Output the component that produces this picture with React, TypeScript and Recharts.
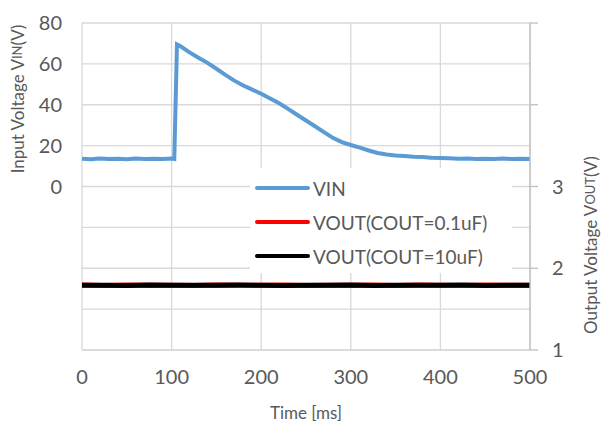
import React from "react";
import {
  LineChart,
  Line,
  XAxis,
  YAxis,
  CartesianGrid,
  Legend,
  Label,
} from "recharts";

// time [ms] and input voltage [V]
const vinTime = [
  0, 10, 20, 30, 40, 50, 60, 70, 80, 90, 100, 103, 106, 110, 120, 130, 140,
  150, 160, 170, 180, 190, 200, 210, 220, 230, 240, 250, 260, 270, 280, 290,
  300, 310, 320, 330, 340, 350, 360, 370, 380, 390, 400, 410, 420, 430, 440,
  450, 460, 470, 480, 490, 500,
];
const vinValues = [
  13.6, 13.3, 13.7, 13.4, 13.6, 13.3, 13.7, 13.5, 13.6, 13.4, 13.7, 13.5,
  69.5, 68.6, 65.6, 63.0, 60.5, 57.6, 54.6, 51.8, 49.4, 47.4, 45.4, 43.1, 40.7,
  38.0, 35.1, 32.3, 29.5, 26.6, 23.8, 21.7, 20.3, 19.0, 17.6, 16.4, 15.7, 15.2,
  14.9, 14.6, 14.4, 14.1, 14.0, 13.8, 13.6, 13.7, 13.4, 13.6, 13.5, 13.7, 13.4,
  13.6, 13.5,
];

// output voltage [V], sampled every 25 ms
const voutTime = [
  0, 25, 50, 75, 100, 125, 150, 175, 200, 225, 250, 275, 300, 325, 350, 375,
  400, 425, 450, 475, 500,
];
const voutSmallCap = [
  1.794, 1.79, 1.795, 1.791, 1.793, 1.79, 1.796, 1.791, 1.792, 1.795, 1.79,
  1.793, 1.791, 1.795, 1.79, 1.794, 1.792, 1.79, 1.795, 1.791, 1.793,
];
const voutLargeCap = [
  1.791, 1.793, 1.79, 1.794, 1.791, 1.793, 1.791, 1.794, 1.792, 1.79, 1.793,
  1.791, 1.794, 1.79, 1.793, 1.791, 1.792, 1.794, 1.79, 1.793, 1.791,
];

const timeTicks = [0, 100, 200, 300, 400, 500];
const vinTicks = [-80, -60, -40, -20, 0, 20, 40, 60, 80];
const voutTicks = [1, 2, 3, 4, 5];

const vinData = vinTime.map((t, i) => ({ t, v: vinValues[i] }));
const vout01Data = voutTime.map((t, i) => ({ t, v: voutSmallCap[i] }));
const vout10Data = voutTime.map((t, i) => ({ t, v: voutLargeCap[i] }));

const FONT = "Lato, 'Open Sans', sans-serif";
const GRAY = "#595959";
const GRID = "#d9d9d9";

const legendItems = [
  { name: "VIN", color: "#5b9bd5" },
  { name: "VOUT(COUT=0.1uF)", color: "#ff0000" },
  { name: "VOUT(COUT=10uF)", color: "#000000" },
];

function ChartLegend() {
  return (
    <div style={{ background: "#fff", padding: "3px 0 0 5px", fontFamily: FONT }}>
      {legendItems.map((item) => (
        <div
          key={item.name}
          style={{ display: "flex", alignItems: "center", height: 34, color: GRAY, fontSize: 19 }}
        >
          <div style={{ width: 55, height: 4, background: item.color, borderRadius: 2, marginRight: 3 }} />
          <span>{item.name}</span>
        </div>
      ))}
    </div>
  );
}

function AxisTitle({ x, y, main, sub, tail }: { x: number; y: number; main: string; sub: string; tail: string }) {
  return (
    <text
      x={x}
      y={y}
      transform={`rotate(-90 ${x} ${y})`}
      textAnchor="middle"
      dominantBaseline="central"
      fill={GRAY}
      fontFamily={FONT}
      fontSize={17}
    >
      {main}
      <tspan fontSize={13}>{sub}</tspan>
      {tail}
    </text>
  );
}

export default function App() {
  return (
    <div style={{ position: "absolute", left: 0, top: 0, width: 601, height: 432, background: "#fff" }}>
      <LineChart width={601} height={432} margin={{ top: 23, right: 31, bottom: 52, left: 42 }}>
        <CartesianGrid yAxisId="vin" stroke={GRID} strokeWidth={1.3} />
        <XAxis
          dataKey="t"
          type="number"
          domain={[0, 500]}
          ticks={timeTicks}
          axisLine={{ stroke: GRID, strokeWidth: 1.3 }}
          tickLine={false}
          tickSize={0}
          tickMargin={20}
          height={30}
          tick={{ fill: GRAY, fontSize: 20, fontFamily: FONT }}
          allowDuplicatedCategory={false}
        >
          <Label
            content={() => (
              <text x={306} y={412} textAnchor="middle" dominantBaseline="central" fill={GRAY} fontFamily={FONT} fontSize={17}>
                Time [ms]
              </text>
            )}
          />
        </XAxis>
        <YAxis
          yAxisId="vin"
          domain={[-80, 80]}
          ticks={vinTicks}
          width={40}
          axisLine={false}
          tickLine={false}
          tickSize={0}
          tickMargin={20}
          tickFormatter={(v: number) => (v < 0 ? "" : String(v))}
          tick={{ fill: GRAY, fontSize: 20, fontFamily: FONT }}
        >
          <Label content={() => <AxisTitle x={17} y={99} main="Input Voltage V" sub="IN" tail="(V)" />} />
        </YAxis>
        <YAxis
          yAxisId="vout"
          orientation="right"
          domain={[1, 5]}
          ticks={voutTicks}
          width={40}
          axisLine={{ stroke: "#bfbfbf", strokeWidth: 1.3 }}
          tickLine={{ stroke: "#bfbfbf", strokeWidth: 1.3 }}
          tickSize={8}
          tickMargin={14}
          tickFormatter={(v: number) => (v > 3 ? "" : String(v))}
          tick={{ fill: GRAY, fontSize: 20, fontFamily: FONT }}
        >
          <Label content={() => <AxisTitle x={590} y={245} main="Output Voltage V" sub="OUT" tail="(V)" />} />
        </YAxis>
        <Line
          yAxisId="vin"
          data={vinData}
          dataKey="v"
          name="VIN"
          type="linear"
          stroke="#5b9bd5"
          strokeWidth={4}
          dot={false}
          isAnimationActive={false}
        />
        <Line
          yAxisId="vout"
          data={vout01Data}
          dataKey="v"
          name="VOUT(COUT=0.1uF)"
          type="linear"
          stroke="#ff0000"
          strokeWidth={5}
          dot={false}
          isAnimationActive={false}
        />
        <Line
          yAxisId="vout"
          data={vout10Data}
          dataKey="v"
          name="VOUT(COUT=10uF)"
          type="linear"
          stroke="#000000"
          strokeWidth={5}
          dot={false}
          isAnimationActive={false}
        />
        <Legend
          layout="vertical"
          align="center"
          verticalAlign="middle"
          content={() => <ChartLegend />}
          wrapperStyle={{ left: 250, top: 168, width: 262, height: 104 }}
        />
      </LineChart>
    </div>
  );
}
